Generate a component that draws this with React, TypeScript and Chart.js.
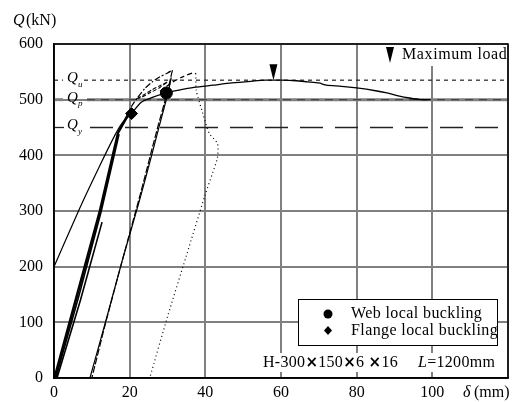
import React, { useEffect, useRef } from "react";
import { Chart, registerables } from "chart.js";

Chart.register(...registerables);

// ---- reference loads (kN) ----
const QU = 535;
const QP = 500;
const QY = 450;

// ---- axis ----
const xTicks = [0, 20, 40, 60, 80, 100];
const yTicks = [0, 100, 200, 300, 400, 500, 600];

// ---- elastic loading bundle ----
const bundleAX = [0, 6, 12, 16.8, 19, 20.5];
const bundleAY = [0, 150, 300, 440, 468, 476];
const bundleBX = [0.3, 6.3, 12.2, 17, 19.5];
const bundleBY = [0, 150, 298, 440, 470];
const bundleCX = [0.5, 6.6, 12.5, 17.2];
const bundleCY = [0, 148, 300, 438];
const shortX = [0.8, 7, 12.7];
const shortY = [0, 140, 280];

// ---- reverse reloading line entering from the negative side ----
const reverseX = [0, 6.8, 12, 16, 18, 20.5];
const reverseY = [200, 305, 380, 435, 458, 475];

// ---- envelope ----
const envX = [20.5, 23, 26, 29.7, 33, 37, 42, 47, 52, 56, 60, 64, 67, 70, 72, 76, 80, 85, 88, 91, 94, 97, 99.5];
const envY = [475, 495, 504, 512, 517, 522, 526, 530, 533, 535, 535, 534, 532, 530, 526, 524, 521, 516, 512, 507, 503, 500, 500];

// ---- reloading / unloading lines ----
const reloadX = [9.5, 14, 18, 22.6, 26, 28.5, 30, 31];
const reloadY = [0, 110, 210, 319, 405, 470, 508, 540];
const unloadX = [31.3, 30, 27, 23, 18, 13.5, 10];
const unloadY = [553, 515, 440, 335, 210, 95, 0];

// ---- dash-dot cap ----
const capX = [19, 20.5, 22, 24, 26, 28, 30, 31.3];
const capY = [468, 488, 503, 520, 532, 541, 548, 553];

// ---- dashed segment to the right ----
const upperX = [28, 31, 34, 36.6, 37.5];
const upperY = [515, 530, 541, 548, 547];

// ---- small loop ----
const loopX = [22, 24, 26, 28, 30, 28, 25, 23, 22];
const loopY = [502, 510, 518, 525, 532, 522, 511, 504, 502];

// ---- dotted final cycle ----
const dotX = [37.5, 37.6, 39.3, 41, 43.2, 43.2, 42, 40, 35, 30, 25.3];
const dotY = [547, 517, 476, 440, 421, 396, 370, 330, 220, 110, 0];

// ---- markers ----
const webBuckX = [29.7];
const webBuckY = [512];
const flangeBuckX = [20.5];
const flangeBuckY = [475];
const maxLoadX = 58;
const maxLoadY = 535;

const pts = (xs: number[], ys: number[]) => xs.map((x, i) => ({ x, y: ys[i] }));

const SERIF = "'Liberation Serif', 'Times New Roman', serif";
const SANS = "'DejaVu Sans', sans-serif";

const line = (d: any, width = 1.3, dash: number[] = [], tension = 0.25) => ({
  data: d,
  showLine: true,
  borderColor: "#000",
  backgroundColor: "#000",
  borderWidth: width,
  borderDash: dash,
  pointRadius: 0,
  tension,
});

const annot = {
  id: "annot",
  beforeDatasetsDraw(chart: any) {
    const { ctx, chartArea, scales } = chart;
    const { left, right } = chartArea;
    const y = scales.y;
    const seg = (x1: number, yy: number, x2: number) => {
      ctx.beginPath();
      ctx.moveTo(x1, yy);
      ctx.lineTo(x2, yy);
      ctx.stroke();
    };
    ctx.save();
    // Qu dotted
    const yu = y.getPixelForValue(QU);
    ctx.strokeStyle = "#222";
    ctx.lineWidth = 1.2;
    ctx.setLineDash([4, 4]);
    seg(left, yu, left + 9);
    seg(left + 30, yu, right);
    // Qp thick gray
    const yp = y.getPixelForValue(QP);
    ctx.strokeStyle = "#808080";
    ctx.lineWidth = 3;
    ctx.setLineDash([]);
    seg(left, yp, left + 9);
    seg(left + 33, yp, right);
    ctx.strokeStyle = "#444";
    ctx.lineWidth = 1.2;
    ctx.setLineDash([8, 6]);
    seg(left + 33, yp, right);
    // Qy long dash
    const yy = y.getPixelForValue(QY);
    ctx.strokeStyle = "#222";
    ctx.lineWidth = 1.3;
    ctx.setLineDash([]);
    seg(left, yy, left + 10);
    ctx.setLineDash([23, 12]);
    seg(left + 36, yy, right);
    ctx.restore();

    // Q labels
    ctx.save();
    ctx.fillStyle = "#000";
    ctx.textBaseline = "middle";
    const qlab = (sub: string, py: number) => {
      ctx.font = `italic 15px ${SERIF}`;
      ctx.fillText("Q", left + 13, py - 2);
      ctx.font = `italic 9px ${SERIF}`;
      ctx.fillText(sub, left + 24, py + 4);
    };
    qlab("u", yu);
    qlab("p", yp);
    qlab("y", yy);
    ctx.restore();
  },
  afterDatasetsDraw(chart: any) {
    const { ctx, chartArea, scales } = chart;
    const { left, right, top, bottom } = chartArea;
    const x = scales.x;
    const y = scales.y;
    ctx.save();
    // border
    ctx.strokeStyle = "#000";
    ctx.lineWidth = 1.5;
    ctx.setLineDash([]);
    ctx.strokeRect(left, top, right - left, bottom - top);

    // maximum load marker on the curve
    const mx = x.getPixelForValue(maxLoadX);
    const my = y.getPixelForValue(maxLoadY);
    ctx.fillStyle = "#000";
    ctx.beginPath();
    ctx.moveTo(mx, my);
    ctx.lineTo(mx - 4, my - 16);
    ctx.lineTo(mx + 4, my - 16);
    ctx.closePath();
    ctx.fill();

    // "Maximum load" key
    ctx.fillStyle = "#fff";
    ctx.fillRect(383, top + 1, right - 384, 21);
    ctx.fillStyle = "#000";
    ctx.beginPath();
    ctx.moveTo(390, 63);
    ctx.lineTo(386, 47);
    ctx.lineTo(394, 47);
    ctx.closePath();
    ctx.fill();
    ctx.font = `16px ${SERIF}`;
    (ctx as any).letterSpacing = "0.6px";
    ctx.textBaseline = "middle";
    ctx.textAlign = "left";
    ctx.fillText("Maximum load", 402, 55);

    // legend box
    ctx.fillStyle = "#fff";
    ctx.fillRect(298, 299, 199, 46);
    ctx.strokeStyle = "#000";
    ctx.lineWidth = 1;
    ctx.strokeRect(298.5, 299.5, 199, 46);
    ctx.fillStyle = "#000";
    ctx.beginPath();
    ctx.arc(328, 314, 4.5, 0, Math.PI * 2);
    ctx.fill();
    ctx.beginPath();
    ctx.moveTo(328, 326);
    ctx.lineTo(332, 330.5);
    ctx.lineTo(328, 335);
    ctx.lineTo(324, 330.5);
    ctx.closePath();
    ctx.fill();
    ctx.font = `16px ${SERIF}`;
    (ctx as any).letterSpacing = "0.4px";
    ctx.fillText("Web local buckling", 351, 314);
    ctx.fillText("Flange local buckling", 351, 331);

    // specimen note
    ctx.fillStyle = "#fff";
    ctx.fillRect(261, 353, 242, 19);
    ctx.fillStyle = "#000";
    (ctx as any).letterSpacing = "0.3px";
    let cx = 263;
    const piece = (s: string, font: string) => {
      ctx.font = font;
      ctx.fillText(s, cx, 363);
      cx += ctx.measureText(s).width;
    };
    const f = `16px ${SERIF}`;
    const fx = `bold 15px ${SANS}`;
    piece("H-300", f);
    piece("×", fx);
    piece("150", f);
    piece("×", fx);
    piece("6 ", f);
    piece("×", fx);
    piece("16", f);
    cx = 418;
    piece("L", `italic 16px ${SERIF}`);
    piece("=1200mm", f);
    (ctx as any).letterSpacing = "0px";

    // axis titles
    ctx.font = `italic 16px ${SERIF}`;
    ctx.fillText("δ", 463, 393);
    ctx.font = `16px ${SERIF}`;
    ctx.fillText("(mm)", 474, 393);
    ctx.font = `italic 16px ${SERIF}`;
    ctx.fillText("Q", 13, 21);
    ctx.font = `16px ${SERIF}`;
    ctx.fillText("(kN)", 26, 21);
    ctx.restore();
  },
};

export default function App() {
  const ref = useRef<HTMLCanvasElement | null>(null);
  useEffect(() => {
    if (!ref.current) return;
    Chart.defaults.font.family = SERIF;
    const chart = new Chart(ref.current, {
      type: "scatter",
      data: {
        datasets: [
          line(pts(bundleAX, bundleAY), 1.6, [], 0),
          line(pts(bundleBX, bundleBY), 1.6, [], 0),
          line(pts(bundleCX, bundleCY), 1.6, [], 0),
          line(pts(shortX, shortY), 1.6, [], 0),
          line(pts(reverseX, reverseY), 1.2),
          line(pts(envX, envY), 1.3),
          line(pts(reloadX, reloadY), 1.2),
          line(pts(unloadX, unloadY), 1.2, [7, 2]),
          line(pts(capX, capY), 1.2, [6, 2, 2, 2]),
          line(pts(upperX, upperY), 1.2, [5, 3]),
          line(pts(loopX, loopY), 1.1, [4, 2]),
          line(pts(dotX, dotY), 1.2, [1, 3]),
          {
            data: pts(webBuckX, webBuckY),
            pointRadius: 6,
            pointStyle: "circle",
            backgroundColor: "#000",
            borderColor: "#000",
          },
          {
            data: pts(flangeBuckX, flangeBuckY),
            pointRadius: 6,
            pointStyle: "rectRot",
            backgroundColor: "#000",
            borderColor: "#000",
          },
        ] as any,
      },
      options: {
        animation: false,
        responsive: false,
        events: [],
        layout: { padding: { top: 44, right: 17, left: 0, bottom: 0 } },
        plugins: { legend: { display: false }, tooltip: { enabled: false } },
        scales: {
          x: {
            type: "linear",
            min: 0,
            max: 120,
            afterBuildTicks: (s: any) => {
              s.ticks = [...xTicks, 120].map((v) => ({ value: v }));
            },
            afterFit: (s: any) => {
              s.height = 24;
            },
            ticks: {
              callback: (v: any) => (xTicks.includes(Number(v)) ? String(v) : ""),
              color: "#000",
              font: { size: 16, family: SERIF },
              padding: 5,
              maxRotation: 0,
              autoSkip: false,
            },
            grid: { color: "#808080", lineWidth: 2, drawTicks: false },
            border: { color: "#000", width: 1.5 },
          },
          y: {
            type: "linear",
            min: 0,
            max: 600,
            afterBuildTicks: (s: any) => {
              s.ticks = yTicks.map((v) => ({ value: v }));
            },
            afterFit: (s: any) => {
              s.width = 54;
            },
            ticks: {
              color: "#000",
              font: { size: 16, family: SERIF },
              padding: 11,
            },
            grid: { color: "#808080", lineWidth: 2, drawTicks: false },
            border: { color: "#000", width: 1.5 },
          },
        },
      },
      plugins: [annot],
    });
    return () => chart.destroy();
  }, []);
  return (
    <div style={{ position: "absolute", left: 0, top: 0, width: 525, height: 402, background: "#fff" }}>
      <canvas ref={ref} width={525} height={402} />
    </div>
  );
}
